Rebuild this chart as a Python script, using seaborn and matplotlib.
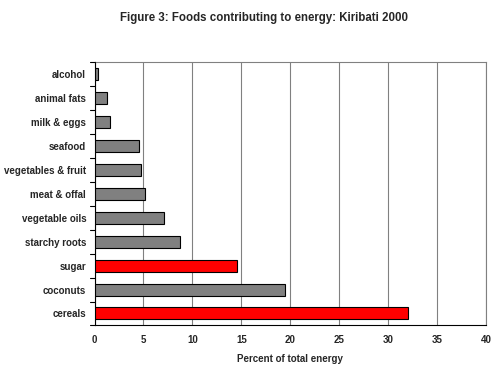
import matplotlib
matplotlib.use("Agg")
import matplotlib.pyplot as plt
import seaborn as sns
import pandas as pd

categories = ["alcohol", "animal fats", "milk & eggs", "seafood", "vegetables & fruit",
              "meat & offal", "vegetable oils", "starchy roots", "sugar", "coconuts", "cereals"]
values = [0.4, 1.3, 1.6, 4.5, 4.7, 5.2, 7.1, 8.7, 14.6, 19.5, 32.0]
highlight = ["sugar", "cereals"]
x_ticks = [0, 5, 10, 15, 20, 25, 30, 35, 40]

df = pd.DataFrame({"food": categories, "pct": values})
palette = {c: ("#ff0000" if c in highlight else "#808080") for c in categories}

sns.set_style("white")
plt.rcParams['font.family'] = ['Liberation Sans', 'DejaVu Sans']

fig = plt.figure(figsize=(5, 3.69), dpi=100)
ax = fig.add_axes([0.189, 0.118, 0.783, 0.714])

sns.barplot(data=df, y="food", x="pct", hue="food", palette=palette, order=categories,
            orient="h", width=0.5, saturation=1, edgecolor="black", linewidth=0.8,
            legend=False, ax=ax, zorder=3)

ax.set_xlim(0, 40)
ax.set_xticks(x_ticks)
ax.set_xticklabels([str(t) for t in x_ticks], fontsize=7, fontweight="bold")
ax.set_ylim(len(categories) - 0.5, -0.5)
ax.set_yticks(range(len(categories)))
ax.set_yticklabels(categories, fontsize=7, fontweight="bold")
ax.tick_params(axis="y", length=0, pad=6)
for b in [i - 0.5 for i in range(len(categories) + 1)]:
    ax.plot([-0.012, 0], [b, b], transform=ax.get_yaxis_transform(), color="black",
            lw=0.8, clip_on=False, zorder=4)
ax.tick_params(axis="x", length=3, direction="out", width=0.8, color="black", pad=4)
ax.grid(axis="x", color="#808080", lw=0.8, zorder=0)
ax.grid(axis="y", visible=False)
for s in ["top", "right"]:
    ax.spines[s].set_color("#808080")
    ax.spines[s].set_linewidth(0.8)
for s in ["left", "bottom"]:
    ax.spines[s].set_color("black")
    ax.spines[s].set_linewidth(0.8)
ax.set_ylabel("")
ax.set_xlabel("Percent of total energy", fontsize=7, fontweight="bold", labelpad=6)
fig.text(0.527, 0.95, "Figure 3: Foods contributing to energy: Kiribati 2000",
         ha="center", va="center", fontsize=8.3, fontweight="bold")

fig.savefig("out.png", dpi=100)
